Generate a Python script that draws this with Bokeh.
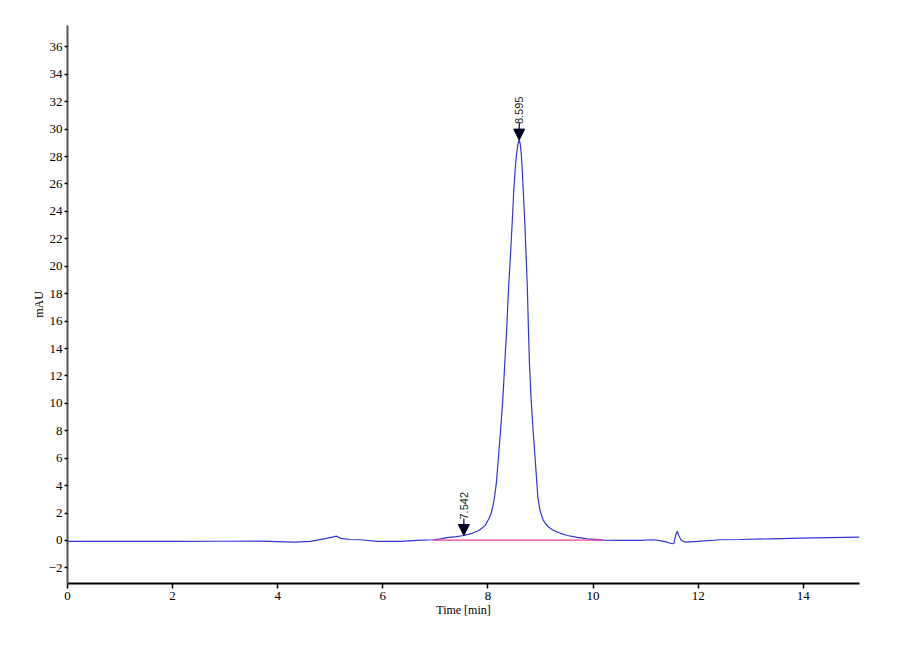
from bokeh.plotting import figure
from bokeh.models import Range1d, Arrow, NormalHead, Label, FixedTicker
from bokeh.embed import file_html
from bokeh.resources import INLINE

# ---- data ----
time_min = [0.0, 1.0, 2.0, 3.0, 3.67, 4.0, 4.31, 4.62, 4.88, 5.04, 5.12, 5.2, 5.38, 5.58,
            5.89, 6.34, 6.65, 6.97, 7.10, 7.22, 7.40, 7.542, 7.70, 7.83, 7.95, 8.02, 8.06,
            8.10, 8.125, 8.16, 8.19, 8.24, 8.285, 8.32, 8.355, 8.39, 8.43, 8.463, 8.494,
            8.525, 8.545, 8.57, 8.595, 8.615, 8.634, 8.65, 8.67, 8.70, 8.725, 8.75, 8.77,
            8.79, 8.82, 8.86, 8.905, 8.95, 8.98, 9.01, 9.05, 9.10, 9.17, 9.25, 9.38, 9.51,
            9.70, 9.89, 10.2, 10.5, 10.9, 11.16, 11.35, 11.51, 11.54, 11.57, 11.60, 11.63,
            11.68, 11.76, 11.98, 12.43, 12.8, 13.4, 13.95, 14.5, 15.07]
mau = [-0.07, -0.07, -0.07, -0.06, -0.05, -0.08, -0.12, -0.07, 0.12, 0.24, 0.31, 0.15, 0.07, 0.05,
       -0.07, -0.07, 0.0, 0.05, 0.12, 0.20, 0.28, 0.36, 0.52, 0.73, 1.10, 1.60, 1.95,
       2.6, 3.15, 4.2, 5.6, 8.0, 10.4, 12.9, 15.3, 18.2, 20.9, 23.3, 25.7,
       27.4, 28.2, 28.9, 29.2, 28.9, 28.2, 27.2, 25.7, 23.3, 20.9, 18.4, 15.5,
       12.9, 10.4, 8.0, 5.6, 3.15, 2.4, 1.95, 1.5, 1.2, 0.92, 0.73, 0.52, 0.36,
       0.22, 0.12, 0.02, 0.0, 0.0, 0.05, -0.07, -0.24, -0.2, 0.36, 0.68, 0.36,
       0.0, -0.12, -0.07, 0.05, 0.07, 0.12, 0.17, 0.21, 0.24]

peak_times = [7.542, 8.595]
peak_heights = [0.36, 29.2]
peak_labels = ["7.542", "8.595"]

baseline_t = [6.95, 10.2]
baseline_v = [0.03, 0.03]

x_ticks = [0, 2, 4, 6, 8, 10, 12, 14]
y_ticks = [-2, 0, 2, 4, 6, 8, 10, 12, 14, 16, 18, 20, 22, 24, 26, 28, 30, 32, 34, 36]

SERIF = "Liberation Serif"

p = figure(frame_width=792, frame_height=558,
           x_range=Range1d(0, 15.07), y_range=Range1d(-3.14, 37.56),
           output_backend="svg", toolbar_location=None, title=None,
           min_border_left=67, min_border_top=25, min_border_right=25,
           min_border_bottom=45)
p.outline_line_color = None
p.xgrid.visible = False
p.ygrid.visible = False
p.background_fill_color = "white"
p.border_fill_color = "white"

p.line(time_min, mau, line_color="#3434d6", line_width=1.2)
p.line(baseline_t, baseline_v, line_color="#f0409a", line_width=1.2)

# peak markers: arrow head tip on the peak, short stem, rotated label
px_per_unit = 558 / (37.56 + 3.14)
stem = 17 / px_per_unit
for t, h, lab in zip(peak_times, peak_heights, peak_labels):
    p.add_layout(Arrow(end=NormalHead(size=11, fill_color="#000022", line_color="#000022"),
                       x_start=t, y_start=h + stem, x_end=t, y_end=h,
                       line_color="#000022", line_width=1.2))
    p.add_layout(Label(x=t, y=h, y_offset=16, text=lab, angle=90, angle_units="deg",
                       text_align="left", text_baseline="middle",
                       text_font="Liberation Sans", text_font_size="11px",
                       text_color="#222222"))

xa = p.xaxis[0]
xa.ticker = FixedTicker(ticks=x_ticks)
xa.axis_label = "Time [min]"
xa.axis_line_color = "black"
xa.axis_line_width = 2
xa.major_tick_line_color = "black"
xa.major_tick_line_width = 1.5
xa.major_tick_out = 5
xa.major_tick_in = 0
xa.minor_tick_line_color = None
xa.major_label_standoff = 3
xa.axis_label_standoff = 0
xa.major_label_text_font = SERIF
xa.major_label_text_font_size = "13px"
xa.major_label_text_color = "black"
xa.axis_label_text_font = SERIF
xa.axis_label_text_font_size = "12px"
xa.axis_label_text_font_style = "normal"
xa.axis_label_text_color = "black"

ya = p.yaxis[0]
ya.ticker = FixedTicker(ticks=y_ticks)
ya.axis_label = "mAU"
ya.axis_line_color = "#555555"
ya.axis_line_width = 2
ya.major_tick_line_color = "black"
ya.major_tick_line_width = 1.5
ya.major_tick_out = 3
ya.major_tick_in = 0
ya.minor_tick_line_color = None
ya.major_label_standoff = 2
ya.axis_label_standoff = 0
ya.major_label_text_font = SERIF
ya.major_label_text_font_size = "13px"
ya.major_label_text_color = "black"
ya.axis_label_text_font = SERIF
ya.axis_label_text_font_size = "12px"
ya.axis_label_text_font_style = "normal"
ya.axis_label_text_color = "black"

open("out.html", "w").write(file_html(p, INLINE))
